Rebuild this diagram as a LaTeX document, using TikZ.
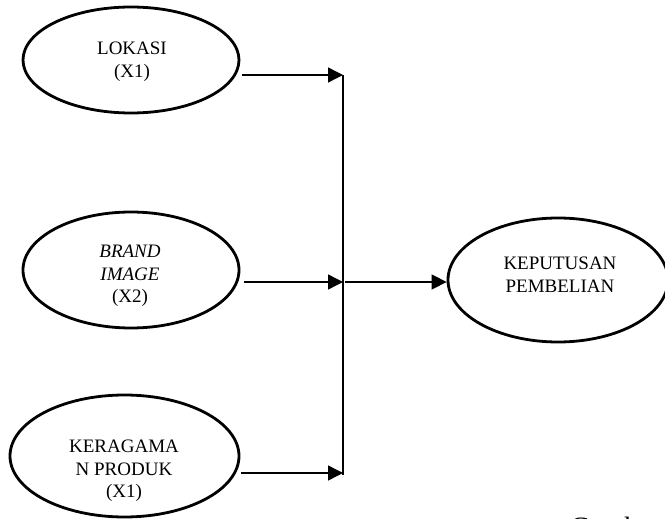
\documentclass[tikz,border=0pt]{standalone}
\usepackage{fontspec}
\setmainfont{Liberation Serif}
\usetikzlibrary{shapes.geometric,arrows.meta}
\tikzset{
    var/.style={ellipse,draw,line width=2.8pt,inner sep=0pt},
    vartext/.style={align=center,inner sep=0pt,font=\fontsize{19}{22.5}\selectfont},
    arr/.style={line width=1.4pt,-{Triangle[length=15pt,width=15pt]}}
}
\begin{document}
\begin{tikzpicture}[x=1pt,y=-1pt]
    \useasboundingbox (0,0) rectangle (665,519);
    \clip (0,0) rectangle (665,519);
    % variables X
    \node[var,minimum width=216pt,minimum height=106pt] (lokasi) at (131,60) {};
    \node[vartext] (lokasitxt) at (132,61.5) {LOKASI\\(X1)};
    \node[var,minimum width=216pt,minimum height=116pt] (brand) at (131,270) {};
    \node[vartext] (brandtxt) at (130,276) {\textit{BRAND}\\\textit{IMAGE}\\(X2)};
    \node[var,minimum width=229pt,minimum height=122pt] (ragam) at (124.5,456) {};
    \node[vartext] (ragamtxt) at (124,471) {KERAGAMA\\N PRODUK\\(X1)};
    % variable Y
    \node[var,minimum width=220pt,minimum height=124pt] (beli) at (558,280) {};
    \node[vartext] (belitxt) at (560,274.5) {KEPUTUSAN\\PEMBELIAN};
    % junction line
    \coordinate (j1) at (343,75);
    \coordinate (j2) at (343,282);
    \coordinate (j3) at (343,473);
    \coordinate (jend) at (343,475);
    \draw[line width=1.4pt] (j1) -- (jend);
    \draw[arr] (lokasi.east |- j1) ++(2,0) -- (j1);
    \draw[arr] (brand.east |- j2) ++(4,0) -- (j2);
    \draw[arr] (ragam.east |- j3) ++(1,0) -- (j3);
    \draw[arr] (j2) ++(2,0) -- (beli.west |- j2);
    % caption, cut off at the page edge as in the source
    \node[inner sep=0pt,anchor=base west,font=\fontsize{28}{32}\selectfont] (gambar) at (570,536) {Gambar};
\end{tikzpicture}
\end{document}
